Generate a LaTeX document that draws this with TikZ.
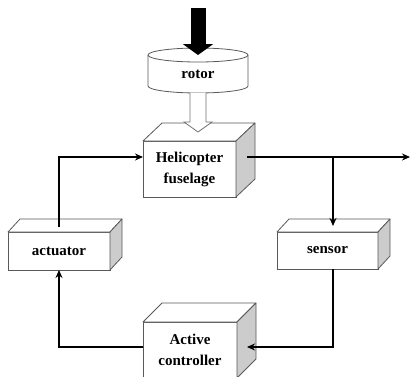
\documentclass[tikz,border=0pt]{standalone}
\usepackage{fontspec}
\setmainfont{Liberation Serif}
\usetikzlibrary{shapes, arrows.meta, positioning, calc}

% top face and shaded side face of a box node
\newcommand{\blockdepth}[3]{%
    \draw[face] (#1.north west) -- ($(#1.north west)+(#2,-#3)$) -- ($(#1.north east)+(#2,-#3)$) -- (#1.north east) -- cycle;
    \draw[face, fill=gray!40] (#1.north east) -- ($(#1.north east)+(#2,-#3)$) -- ($(#1.south east)+(#2,-#3)$) -- (#1.south east) -- cycle;
}

\begin{document}
\begin{tikzpicture}[
    x=1pt, y=-1pt,
    every node/.style={font=\fontsize{15}{21}\selectfont\bfseries},
    block/.style={
        rectangle,
        draw=black!65,
        fill=white,
        line width=0.8pt,
        align=center,
        outer sep=0pt
    },
    face/.style={
        draw=black!65,
        fill=white,
        line width=0.8pt,
        line join=round
    },
    hollow/.style={
        draw=black!55,
        fill=white,
        line width=0.8pt,
        line join=miter
    },
    arrow/.style={
        line width=1.8pt,
        -{Stealth[length=8pt, width=7pt]}
    },
    push/.style={
        line width=15pt,
        -{Triangle[length=11pt, width=30pt]}
    }
]
\useasboundingbox (0,0) rectangle (412,376);

% Rotor
\draw[face] (148,55) -- (148,86) arc[start angle=180, end angle=0, x radius=50, y radius=7] -- (248,55);
\draw[face] (198,55) ellipse[x radius=50, y radius=7];
\node (rotor) [minimum width=100pt, minimum height=38pt, outer sep=0pt] at (198,74) {rotor};

% Boxes
\node (fuselage) [block, minimum width=93pt, minimum height=56pt] at (189.5,169) {Helicopter\\fuselage};
\blockdepth{fuselage}{19}{18}
\node (actuator) [block, minimum width=102pt, minimum height=38pt] at (59,251) {actuator};
\blockdepth{actuator}{12}{13}
\node (sensor) [block, minimum width=101pt, minimum height=37pt] at (327.5,250.5) {sensor};
\blockdepth{sensor}{12}{13}
\node (controller) [block, minimum width=94pt, minimum height=56pt] at (190,350) {Active\\controller};
\blockdepth{controller}{19}{19}

% Input on the rotor
\coordinate (load) at (198,8);
\draw[push] (load) -- (rotor.north);

% Rotor to fuselage
\draw[hollow] ($(rotor.south)+(-8,0)$) -- ++(0,29) -- ++(-6,0) -- ($(rotor.south)+(0,39)$)
    -- ($(rotor.south)+(14,29)$) -- ++(-6,0) -- ++(0,-29);

% Loop
\coordinate (fuseout) at (247,157);
\coordinate (output) at (410,157);
\coordinate (branch) at (333,157);
\coordinate (fusein) at (fuselage.west |- fuseout);
\draw[arrow] (fuseout) -- (output);
\draw[arrow] (branch) -- ($(sensor.north)+(5.5,-6)$);
\draw[arrow] (sensor.south -| branch) |- ($(controller.east)+(10,-3)$);
\draw[arrow] ($(controller.west)+(0,-3)$) -| (actuator.south);
\draw[arrow] ($(actuator.north)+(0,-5)$) |- (fusein);

\end{tikzpicture}
\end{document}
